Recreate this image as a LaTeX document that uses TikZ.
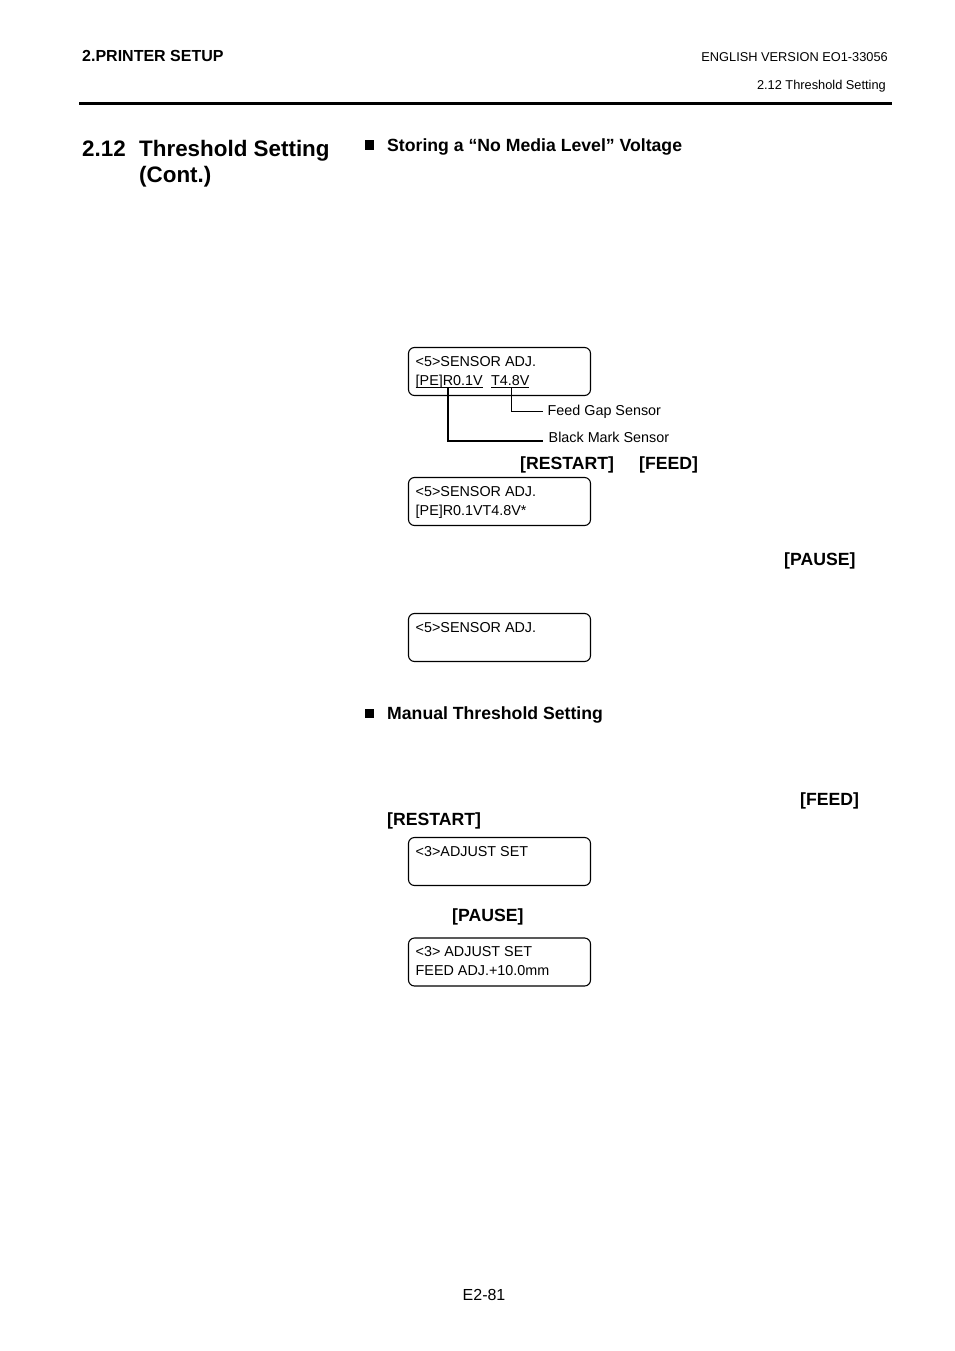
\documentclass[tikz,border=0pt]{standalone}
\usepackage{fontspec}
\setmainfont{Liberation Sans}
\tikzset{
	bodybold/.style={anchor=base west,inner sep=0pt,font=\fontsize{17.65}{20}\selectfont\bfseries},
	small/.style={anchor=base west,inner sep=0pt,font=\fontsize{14.35}{16}\selectfont},
	tiny/.style={anchor=base west,inner sep=0pt,font=\fontsize{12.8}{15}\selectfont},
	title/.style={anchor=base west,inner sep=0pt,font=\fontsize{22.4}{26}\selectfont\bfseries},
	lcd/.style={draw,line width=1.1pt,rounded corners=6pt},
}
\begin{document}
\begin{tikzpicture}[x=1pt,y=-1pt]
	\useasboundingbox[fill=white] (0,0) rectangle (954,1351);
	
	\node[anchor=base west,inner sep=0pt,font=\fontsize{16}{18}\selectfont\bfseries] (chapter) at (82,61.5) {2.PRINTER SETUP};
	\node[tiny,anchor=base east] (version) at (888,62) {ENGLISH VERSION EO1-33056};
	\node[tiny,anchor=base east] (section) at (886,90) {2.12 Threshold Setting};
	\draw[line width=3pt] (79,103.5) -- (892,103.5);
	
	\node[title] (num) at (82,156.5) {2.12};
	\node[title] (head) at (139,156.5) {Threshold Setting};
	\node[title] (cont) at (139,182.5) {(Cont.)};
	
	\fill (364.5,140.5) rectangle (374,150);
	\node[bodybold] (storing) at (387,151.5) {Storing a “No Media Level” Voltage};
	
	% first display
	\draw[lcd] (408.5,347.5) rectangle (590.5,395.5);
	\node[small] (a1) at (415.5,366) {<5>SENSOR ADJ.};
	\node[small] (a2) at (415.5,385) {[PE]R0.1V};
	\node[small] (a3) at (491,385) {T4.8V};
	\draw[line width=1pt] (415.5,387.5) -- (483,387.5);
	\draw[line width=1pt] (491,387.5) -- (529,387.5);
	
	\coordinate (gap) at (511.5,387.5);
	\coordinate (mark) at (448,387.5);
	\node[small] (gaplabel) at (547.5,415) {Feed Gap Sensor};
	\node[small] (marklabel) at (548.5,442) {Black Mark Sensor};
	\draw[line width=1pt] (gap) |- (543,411.5);
	\draw[line width=2pt] (mark) |- (543,440.5);
	
	\node[bodybold] (restart) at (520,469) {[RESTART]};
	\node[bodybold] (feed) at (639,469) {[FEED]};
	
	% second display
	\draw[lcd] (408.5,477.5) rectangle (590.5,525.5);
	\node[small] (b1) at (415.5,496) {<5>SENSOR ADJ.};
	\node[small] (b2) at (415.5,515) {[PE]R0.1VT4.8V*};
	
	\node[bodybold] (pause) at (784,565) {[PAUSE]};
	
	% third display
	\draw[lcd] (408.5,613.5) rectangle (590.5,661.5);
	\node[small] (c1) at (415.5,632) {<5>SENSOR ADJ.};
	
	\fill (364.5,708.5) rectangle (374,718);
	\node[bodybold] (manual) at (387,719) {Manual Threshold Setting};
	
	\node[bodybold] (feedb) at (800,805) {[FEED]};
	\node[bodybold] (restartb) at (387,825) {[RESTART]};
	
	% fourth display
	\draw[lcd] (408.5,837.5) rectangle (590.5,885.5);
	\node[small] (d1) at (415.5,856) {<3>ADJUST SET};
	
	\node[bodybold] (pauseb) at (452,921) {[PAUSE]};
	
	% fifth display
	\draw[lcd] (408.5,938) rectangle (590.5,986);
	\node[small] (e1) at (415.5,956) {<3> ADJUST SET};
	\node[small] (e2) at (415.5,975) {FEED ADJ.+10.0mm};
	
	\node[anchor=base west,inner sep=0pt,font=\fontsize{16}{18}\selectfont] (page) at (462.5,1300) {E2-81};
	
\end{tikzpicture}
\end{document}
